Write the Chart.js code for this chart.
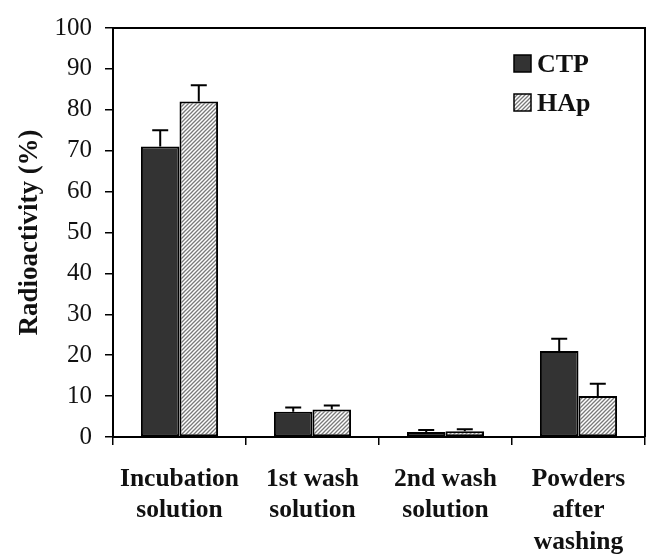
<!DOCTYPE html>
<html>
<head>
<meta charset="utf-8">
<script src="https://cdn.jsdelivr.net/npm/chart.js@4/dist/chart.umd.min.js"></script>
<style>
  body { margin: 0; background: #fff; }
  #wrap { width: 650px; height: 556px; }
</style>
</head>
<body>
<div id="wrap"><canvas id="chart"></canvas></div>
<script>
// data
const categories = [["Incubation", "solution"], ["1st wash", "solution"], ["2nd wash", "solution"], ["Powders", "after", "washing"]];
const ctpValues = [71, 6.2, 1.2, 21];
const ctpErrors = [4, 1, 0.5, 3];
const hapValues = [82, 6.7, 1.4, 10];
const hapErrors = [4, 1, 0.5, 3];
const yTicks = [0, 10, 20, 30, 40, 50, 60, 70, 80, 90, 100];

const FONT = "'Liberation Serif', 'Times New Roman', serif";

function hatch() {
  let c = document.createElement("canvas");
  c.width = 4;
  c.height = 4;
  let g = c.getContext("2d");
  g.fillStyle = "#ffffff";
  g.fillRect(0, 0, 4, 4);
  g.strokeStyle = "#7a7a7a";
  g.lineWidth = 1.3;
  g.beginPath();
  g.moveTo(0, 4); g.lineTo(4, 0);
  g.moveTo(-1, 1); g.lineTo(1, -1);
  g.moveTo(3, 5); g.lineTo(5, 3);
  g.stroke();
  return g.createPattern(c, "repeat");
}
const hatchFill = hatch();

// error bars, upward only
const errorBars = {
  id: "errorBars",
  afterDatasetsDraw(chart) {
    let ctx = chart.ctx;
    let y = chart.scales.y;
    chart.data.datasets.forEach((ds, i) => {
      let meta = chart.getDatasetMeta(i);
      meta.data.forEach((bar, j) => {
        let top = y.getPixelForValue(ds.data[j] + ds.errors[j]);
        ctx.save();
        ctx.strokeStyle = "#000";
        ctx.lineWidth = 2;
        ctx.beginPath();
        ctx.moveTo(bar.x, bar.y);
        ctx.lineTo(bar.x, top);
        ctx.moveTo(bar.x - 8, top);
        ctx.lineTo(bar.x + 8, top);
        ctx.stroke();
        ctx.restore();
      });
    });
  }
};

// top and right frame + legend inside plot
const frameAndLegend = {
  id: "frameAndLegend",
  afterDraw(chart) {
    let ctx = chart.ctx;
    let a = chart.chartArea;
    ctx.save();
    ctx.strokeStyle = "#000";
    ctx.lineWidth = 2;
    ctx.beginPath();
    ctx.moveTo(a.left, a.top);
    ctx.lineTo(a.right, a.top);
    ctx.lineTo(a.right, a.bottom);
    ctx.stroke();

    let items = chart.data.datasets;
    items.forEach((ds, i) => {
      let bx = 514, by = 55 + i * 39;
      ctx.fillStyle = ds.backgroundColor;
      ctx.fillRect(bx, by, 17, 17);
      ctx.lineWidth = 1.5;
      ctx.strokeRect(bx, by, 17, 17);
      ctx.fillStyle = "#111";
      ctx.font = "bold 26px " + FONT;
      ctx.textBaseline = "middle";
      ctx.textAlign = "left";
      ctx.fillText(ds.label, bx + 23, by + 10);
    });
    ctx.restore();
  }
};

new Chart(document.getElementById("chart"), {
  type: "bar",
  data: {
    labels: categories,
    datasets: [
      {
        label: "CTP",
        data: ctpValues,
        errors: ctpErrors,
        backgroundColor: "#333333",
        borderColor: "#000",
        borderWidth: 2,
        borderSkipped: false
      },
      {
        label: "HAp",
        data: hapValues,
        errors: hapErrors,
        backgroundColor: hatchFill,
        borderColor: "#000",
        borderWidth: 2,
        borderSkipped: false
      }
    ]
  },
  options: {
    responsive: true,
    maintainAspectRatio: false,
    animation: false,
    datasets: { bar: { categoryPercentage: 0.58, barPercentage: 1 } },
    layout: { padding: { top: 20, right: 5, left: 0, bottom: 0 } },
    plugins: {
      legend: { display: false },
      tooltip: { enabled: false }
    },
    scales: {
      x: {
        grid: { display: true, offset: true, drawOnChartArea: false, tickLength: 8, color: "#000", lineWidth: 1.5 },
        border: { color: "#000", width: 2 },
        ticks: {
          color: "#111",
          padding: 18,
          maxRotation: 0,
          font: { family: FONT, size: 25.5, weight: "bold", lineHeight: 1.25 }
        },
        afterFit(scale) { scale.height = 119; }
      },
      y: {
        min: 0,
        max: 100,
        afterBuildTicks(scale) { scale.ticks = yTicks.map(v => ({ value: v })); },
        grid: { display: true, drawOnChartArea: false, tickLength: 8, color: "#000", lineWidth: 1.5 },
        border: { color: "#000", width: 2 },
        ticks: {
          color: "#111",
          padding: 13,
          font: { family: FONT, size: 25 }
        },
        title: {
          display: true,
          text: "Radioactivity (%)",
          color: "#111",
          padding: { top: 14, bottom: 0 },
          font: { family: FONT, size: 27, weight: "bold" }
        },
        afterFit(scale) { scale.width = 113; }
      }
    }
  },
  plugins: [errorBars, frameAndLegend]
});
</script>
</body>
</html>
